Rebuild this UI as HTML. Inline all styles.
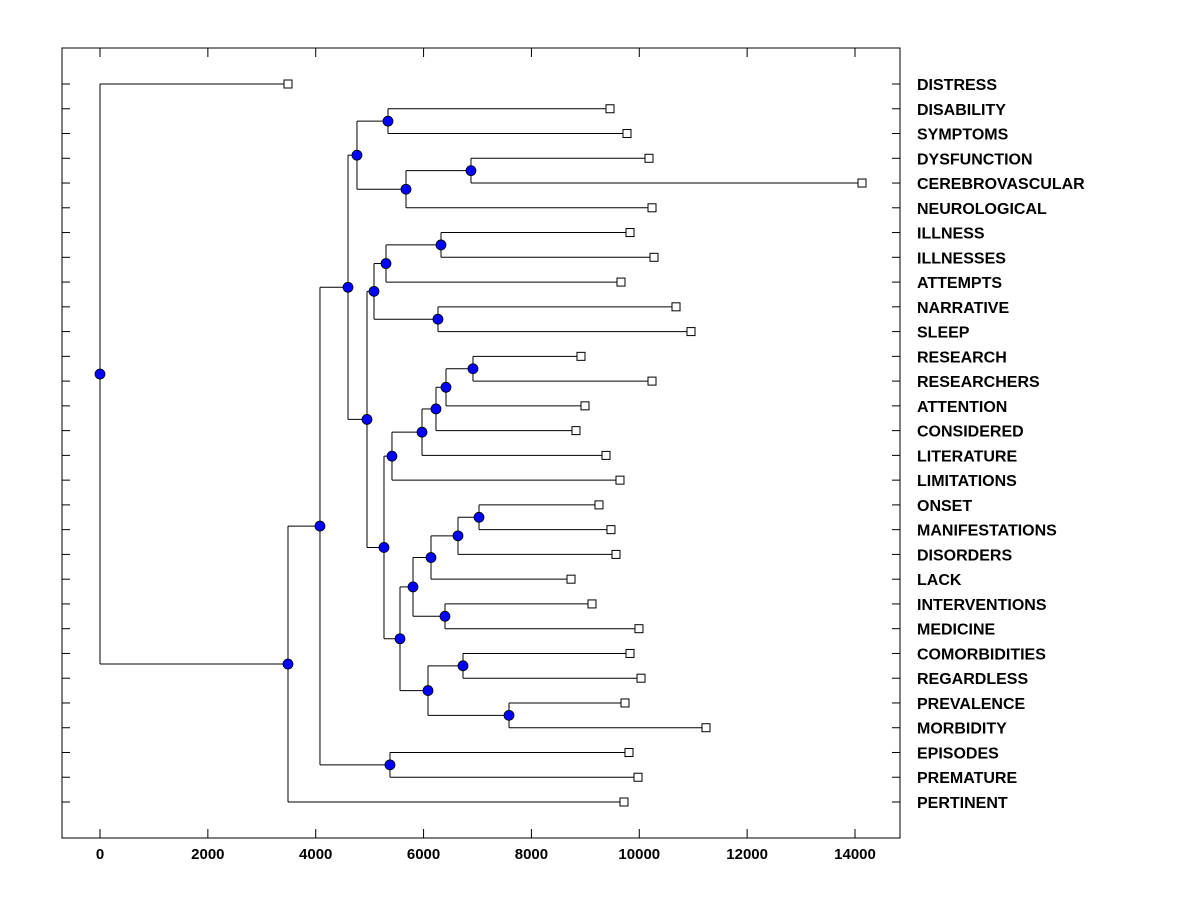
<!DOCTYPE html>
<html><head><meta charset="utf-8"><style>
body{margin:0;background:#fff;}
svg text{font-family:"Liberation Sans",Arial,sans-serif;}
</style></head><body>
<svg id="chart" width="1200" height="900" xmlns="http://www.w3.org/2000/svg"></svg>
<script>
// Data
const leaves = ["DISTRESS","DISABILITY","SYMPTOMS","DYSFUNCTION","CEREBROVASCULAR","NEUROLOGICAL","ILLNESS","ILLNESSES","ATTEMPTS","NARRATIVE","SLEEP","RESEARCH","RESEARCHERS","ATTENTION","CONSIDERED","LITERATURE","LIMITATIONS","ONSET","MANIFESTATIONS","DISORDERS","LACK","INTERVENTIONS","MEDICINE","COMORBIDITIES","REGARDLESS","PREVALENCE","MORBIDITY","EPISODES","PREMATURE","PERTINENT"];
const leafHeights = [3486,9457,9772,10180,14130,10236,9828,10273,9661,10681,10959,8919,10236,8993,8826,9383,9642,9253,9475,9568,8734,9123,9994,9828,10032,9735,11237,9809,9976,9716];
// internal nodes: [name, childA, childB, height]
const nodeNames = ["G","I","H","E","N","L","M","J","U","T","S","R","P","AA","Z","X","Y","V","AB","AC","W","Q","K","F","C","D","B","A","ROOT"];
const nodeChildren = [
 ["DISABILITY","SYMPTOMS"],["DYSFUNCTION","CEREBROVASCULAR"],["I","NEUROLOGICAL"],["G","H"],
 ["ILLNESS","ILLNESSES"],["N","ATTEMPTS"],["NARRATIVE","SLEEP"],["L","M"],
 ["RESEARCH","RESEARCHERS"],["U","ATTENTION"],["T","CONSIDERED"],["S","LITERATURE"],["R","LIMITATIONS"],
 ["ONSET","MANIFESTATIONS"],["AA","DISORDERS"],["Z","LACK"],["INTERVENTIONS","MEDICINE"],["X","Y"],
 ["COMORBIDITIES","REGARDLESS"],["PREVALENCE","MORBIDITY"],["AB","AC"],["V","W"],["P","Q"],["J","K"],["E","F"],
 ["EPISODES","PREMATURE"],["C","D"],["B","PERTINENT"],["DISTRESS","A"]];
const nodeHeights = [5340,6879,5674,4765,6323,5303,6267,5081,6916,6416,6230,5971,5414,7028,6638,6138,6397,5804,6731,7584,6082,5563,5266,4951,4599,5377,4079,3486,0];
const xTicks = [0,2000,4000,6000,8000,10000,12000,14000];

const svg=document.getElementById('chart');
const NS="http://www.w3.org/2000/svg";
const L=62,R=900,T=48,B=838;
const sx=v=>100+v*(755/14000);
const rowY=i=>84+i*(718/29);
function el(tag,attrs,parent){const e=document.createElementNS(NS,tag);for(const k in attrs)e.setAttribute(k,attrs[k]);(parent||svg).appendChild(e);return e;}

const frame=el('rect',{x:L,y:T,width:R-L,height:B-T,fill:'none',stroke:'#000','stroke-width':1});



const xg=el('g',{});


xTicks.forEach(v=>{
  const x=sx(v);
  el('line',{x1:x,x2:x,y1:B,y2:B-9,stroke:'#000'},xg);
  el('line',{x1:x,x2:x,y1:T,y2:T+9,stroke:'#000'},xg);
  const t=el('text',{x:x,y:859,'text-anchor':'middle','font-size':15,'font-weight':'bold'},xg);
  t.textContent=v;
  
  
});

const pos={};
leaves.forEach((n,i)=>{pos[n]={x:sx(leafHeights[i]),y:rowY(i)};});
const lg=el('g',{stroke:'#000',fill:'none'});


const dots=[];
nodeNames.forEach((n,i)=>{
  const [a,b]=nodeChildren[i];
  const x=sx(nodeHeights[i]);
  const pa=pos[a],pb=pos[b];
  const y=(pa.y+pb.y)/2;
  pos[n]={x,y};
  el('line',{x1:x,x2:x,y1:pa.y,y2:pb.y},lg);
  el('line',{x1:x,x2:pa.x,y1:pa.y,y2:pa.y},lg);
  el('line',{x1:x,x2:pb.x,y1:pb.y,y2:pb.y},lg);
  dots.push({x,y});
});

const leafG=el('g',{});


leaves.forEach((n,i)=>{
  const y=rowY(i),p=pos[n];
  el('line',{x1:L,x2:L+8,y1:y,y2:y,stroke:'#000'},leafG);
  el('line',{x1:R-8,x2:R,y1:y,y2:y,stroke:'#000'},leafG);
  const s=el('rect',{x:p.x-4,y:y-4,width:8,height:8,fill:'#fff',stroke:'#000'},leafG);
  
  
  const t=el('text',{x:917,y:y+6,'font-size':16,'font-weight':'bold'},leafG);
  t.textContent=n;
  
  
});
dots.forEach(d=>{
  const c=el('circle',{cx:d.x,cy:d.y,r:5,fill:'#0000ff',stroke:'#000','stroke-width':0.8});
  
  
});
</script>
</body></html>
